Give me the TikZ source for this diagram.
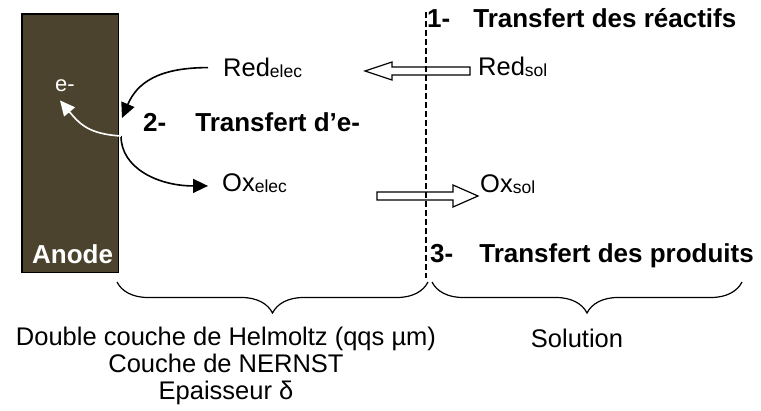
\documentclass[tikz,border=0pt]{standalone}
\usepackage{fontspec}
\setmainfont{Liberation Sans}
\usepackage{tikz}
\usetikzlibrary{
  arrows.meta,%
  % braces under the layers
  decorations.pathreplacing,%
  calc
}
\tikzset{>={Triangle[length=15pt,width=14pt]}}
\definecolor{anodebrown}{RGB}{75,67,46}
\newcommand{\lowtxt}[1]{\raisebox{-1.5pt}{\fontsize{17.5}{18}\selectfont #1}}
\tikzset{
  steplabel/.style={anchor=base west, inner sep=0pt, font=\bfseries\fontsize{26}{30}\selectfont},
  species/.style={anchor=base west, inner sep=0pt, font=\fontsize{25.5}{30}\selectfont},
  layerlabel/.style={anchor=north, inner sep=0pt, align=center, font=\fontsize{25.5}{27}\selectfont},
  electrode/.style={draw=black, line width=1.5pt, fill=anodebrown, minimum width=96.5pt, minimum height=258.5pt, inner sep=0pt},
  curvearrow/.style={->, line width=1.6pt},
  hollowarrow/.style={draw=black, line width=1.2pt, fill=white, line join=miter},
  interface/.style={dash pattern=on 6pt off 3pt, line width=1.1pt},
  layerbrace/.style={decorate, decoration={brace, mirror, amplitude=31pt}, line width=1.2pt}
}

\begin{document}
\begin{tikzpicture}[x=1pt, y=-1pt]
  \useasboundingbox (0,0) rectangle (761,410);
  \node[electrode] (anode) at (70,143) {};
  \node[species, text=white, font=\bfseries\fontsize{26}{30}\selectfont] (anodetxt) at (32,263) {Anode};
  \node[species, text=white, font=\fontsize{22}{26}\selectfont] (electron) at (55,91) {e-};

  \node[steplabel] (etape1) at (427,27) {1-\hspace{23pt}Transfert des réactifs};
  \node[steplabel] (etape2) at (143,131) {2-\hspace{29pt}Transfert d’e-};
  \node[steplabel] (etape3) at (430,262) {3-\hspace{26pt}Transfert des produits};

  \node[species] (redelec) at (223,76) {Red\lowtxt{elec}};
  \node[species] (oxelec) at (222,191) {Ox\lowtxt{elec}};
  \node[species] (redsol) at (478,75) {Red\lowtxt{sol}};
  \node[species] (oxsol) at (480,192) {Ox\lowtxt{sol}};

  \coordinate (impact) at (122,118);
  \coordinate (surface) at (121,136);
  \draw[curvearrow] ([xshift=-15pt]redelec.west) .. controls +(-50,0) and +(15,-35) .. (impact);
  \draw[curvearrow] (surface) .. controls +(0,32) and +(-50,0) .. ([xshift=-14pt, yshift=-3pt]oxelec.west);
  \draw[curvearrow, white] (surface) .. controls +(-32,-2) and +(20,24) .. ([xshift=-5pt, yshift=-9pt]electron.south);

  % transport through the diffusion layer
  \coordinate (redtail) at ([xshift=-8pt]redsol.west |- 0,71);
  \coordinate (oxtail) at (377,196);
  \draw[hollowarrow] (redtail) ++(0,-4) -- ++(-78,0) -- ++(0,-5) -- ++(-27,9) -- ++(27,9) -- ++(0,-5) -- ++(78,0) -- cycle;
  \draw[hollowarrow] (oxtail) ++(0,-4) -- ++(76,0) -- ++(0,-7) -- ++(25,11) -- ++(-25,11) -- ++(0,-7) -- ++(-76,0) -- cycle;

  \coordinate (limtop) at (426,12);
  \coordinate (limbot) at (426,278);
  \draw[interface] (limtop) -- (limbot);

  \coordinate (b1l) at (117,282);
  \coordinate (b1r) at (428,282);
  \coordinate (b2l) at (432,282);
  \coordinate (b2r) at (742,282);
  \draw[layerbrace] (b1l) -- (b1r);
  \draw[layerbrace] (b2l) -- (b2r);
  \node[layerlabel] (couche) at (226,327) {Double couche de Helmoltz (qqs µm)\\Couche de NERNST\\Epaisseur δ};
  \node[layerlabel] (solution) at (577,328.5) {Solution};
\end{tikzpicture}
\end{document}
